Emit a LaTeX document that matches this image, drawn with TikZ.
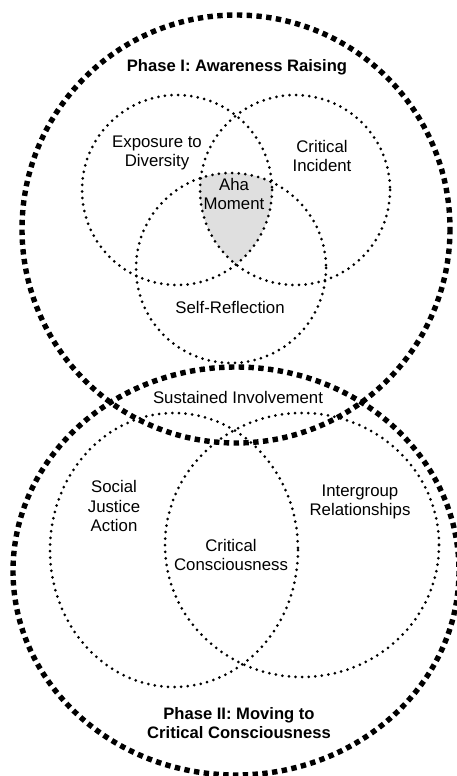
\documentclass[tikz,border=0pt]{standalone}
\usepackage{fontspec}
\setmainfont{Liberation Sans}
\tikzset{
  phase/.style={line width=5.4pt, dash pattern=on 5.4pt off 4.4pt},
  dotring/.style={line width=3pt, line cap=round, dash pattern=on 0pt off 6.6pt},
  lbl/.style={align=center, inner sep=0pt, font=\fontsize{16.8}{19.5}\selectfont},
  head/.style={lbl, font=\fontsize{16.6}{19.5}\selectfont\bfseries}
}
\begin{document}
\begin{tikzpicture}[x=1pt, y=-1pt]
\useasboundingbox (0,0) rectangle (457,776);

% Aha region
\begin{scope}
\clip (177,190) circle [radius=95];
\clip (295,190) circle [radius=95];
\fill[gray!25] (231,268) circle [radius=95];
\end{scope}

% phase I
\draw[dotring] (177,190) circle [radius=95];
\draw[dotring] (295,190) circle [radius=95];
\draw[dotring] (231,268) circle [radius=95];

% phase II
\draw[dotring] (174,550) ellipse [x radius=124, y radius=137];
\draw[dotring] (302,545) ellipse [x radius=137, y radius=132];

\draw[phase] (236,229) circle [radius=214];
\draw[phase] (236,571) ellipse [x radius=223, y radius=204];

\node[head] (title1) at (237,67) {Phase I: Awareness Raising};
\node[lbl] (expo) at (157,153) {Exposure to\\Diversity};
\node[lbl] (crit) at (322,156) {Critical\\Incident};
\node[lbl] (aha) at (234,194) {Aha\\Moment};
\node[lbl] (self) at (230,307) {Self-Reflection};
\node[lbl] (sust) at (238,397) {Sustained Involvement};
\node[lbl] (social) at (114,506) {Social\\Justice\\Action};
\node[lbl] (inter) at (360,502) {Intergroup\\Relationships};
\node[lbl] (cons) at (231,555) {Critical\\Consciousness};
\node[head] (title2) at (239,723) {Phase II: Moving to\\Critical Consciousness};

\end{tikzpicture}
\end{document}
